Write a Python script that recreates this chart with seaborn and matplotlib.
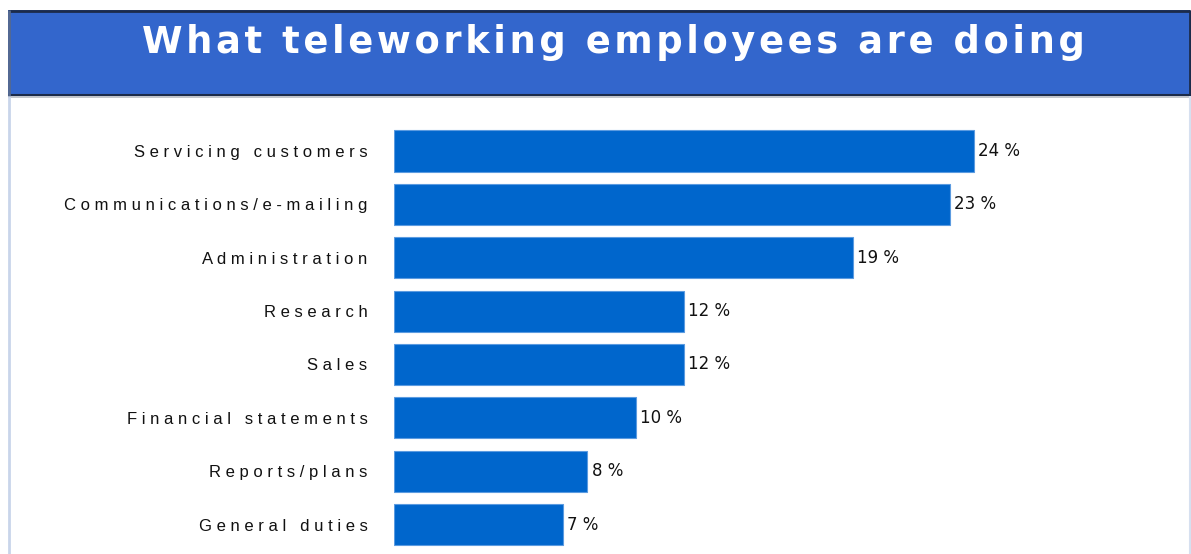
import matplotlib
matplotlib.use("Agg")
import matplotlib.pyplot as plt
from matplotlib.patches import Rectangle
from matplotlib.lines import Line2D
import seaborn as sns
import pandas as pd

# Survey results: share of teleworking employees per activity
activities = [
    "Servicing customers",
    "Communications/e-mailing",
    "Administration",
    "Research",
    "Sales",
    "Financial statements",
    "Reports/plans",
    "General duties",
]
shares = [24, 23, 19, 12, 12, 10, 8, 7]
title = "What teleworking employees are doing"

BAR_BLUE = "#0066CC"
BANNER_BLUE = "#3366CC"

W, H = 1191, 554
sns.set_theme(style="white")
plt.rcParams["font.family"] = ["Liberation Sans", "DejaVu Sans"]

fig = plt.figure(figsize=(W / 100, H / 100), dpi=100)
fig.patch.set_facecolor("white")

# Frame and title banner drawn on a full-figure pixel canvas
bg = fig.add_axes([0, 0, 1, 1])
bg.set_xlim(0, W)
bg.set_ylim(H, 0)
bg.axis("off")
bg.add_patch(Rectangle((8, 10), 1182, 85, facecolor=BANNER_BLUE, edgecolor="none"))
bg.add_line(Line2D([8, 1190], [10.5, 10.5], color="#1c2b4a", lw=2, solid_capstyle="butt"))
bg.add_line(Line2D([8, 1190], [94.5, 94.5], color="#1c2b4a", lw=1.5, solid_capstyle="butt"))
bg.add_line(Line2D([8, 1190], [96.5, 96.5], color="#b8bcc4", lw=1.2, solid_capstyle="butt"))
bg.add_line(Line2D([9, 9], [10, 96], color="#55698f", lw=2, solid_capstyle="butt"))
bg.add_line(Line2D([9, 9], [96, H], color="#c9d5ea", lw=2, solid_capstyle="butt"))
bg.add_line(Line2D([1189.5, 1189.5], [10, 96], color="#1c2b4a", lw=2, solid_capstyle="butt"))
bg.add_line(Line2D([1189.5, 1189.5], [96, H], color="#d6e0f0", lw=1.5, solid_capstyle="butt"))

# Slightly tracked-out banner title
bg.text(613, 53, "\u200a".join(title), color="white", fontsize=26.5,
        fontweight="bold", family="DejaVu Sans", ha="center", va="baseline")

# Bar chart area
df = pd.DataFrame({"activity": activities, "share": shares})
x0 = 394 / W
px_per_pct = 24.17
xmax = 30
ax = fig.add_axes([x0, 2.8 / H, xmax * px_per_pct / W, (551.2 - 124.3) / H])
sns.barplot(data=df, x="share", y="activity", orient="h", color=BAR_BLUE,
            saturation=1, width=0.77, edgecolor="#5b9be0", linewidth=0.8, ax=ax)
ax.set_xlim(0, xmax)
ax.set_ylim(len(activities) - 0.5, -0.5)
ax.set_xlabel("")
ax.set_ylabel("")
ax.set_xticks([])
for s in ax.spines.values():
    s.set_visible(False)
ax.set_facecolor("none")


def spaced(text):
    return " ".join(text)


ax.set_yticks(range(len(activities)))
ax.set_yticklabels([spaced(a) for a in activities], fontsize=12, color="#111111")
ax.tick_params(axis="y", length=0, pad=19)

ax.bar_label(ax.containers[0], labels=[f"{v} %" for v in shares],
             padding=3, fontsize=12, color="#111111",
             family="DejaVu Sans")

fig.savefig("out.png", dpi=100, facecolor="white")
